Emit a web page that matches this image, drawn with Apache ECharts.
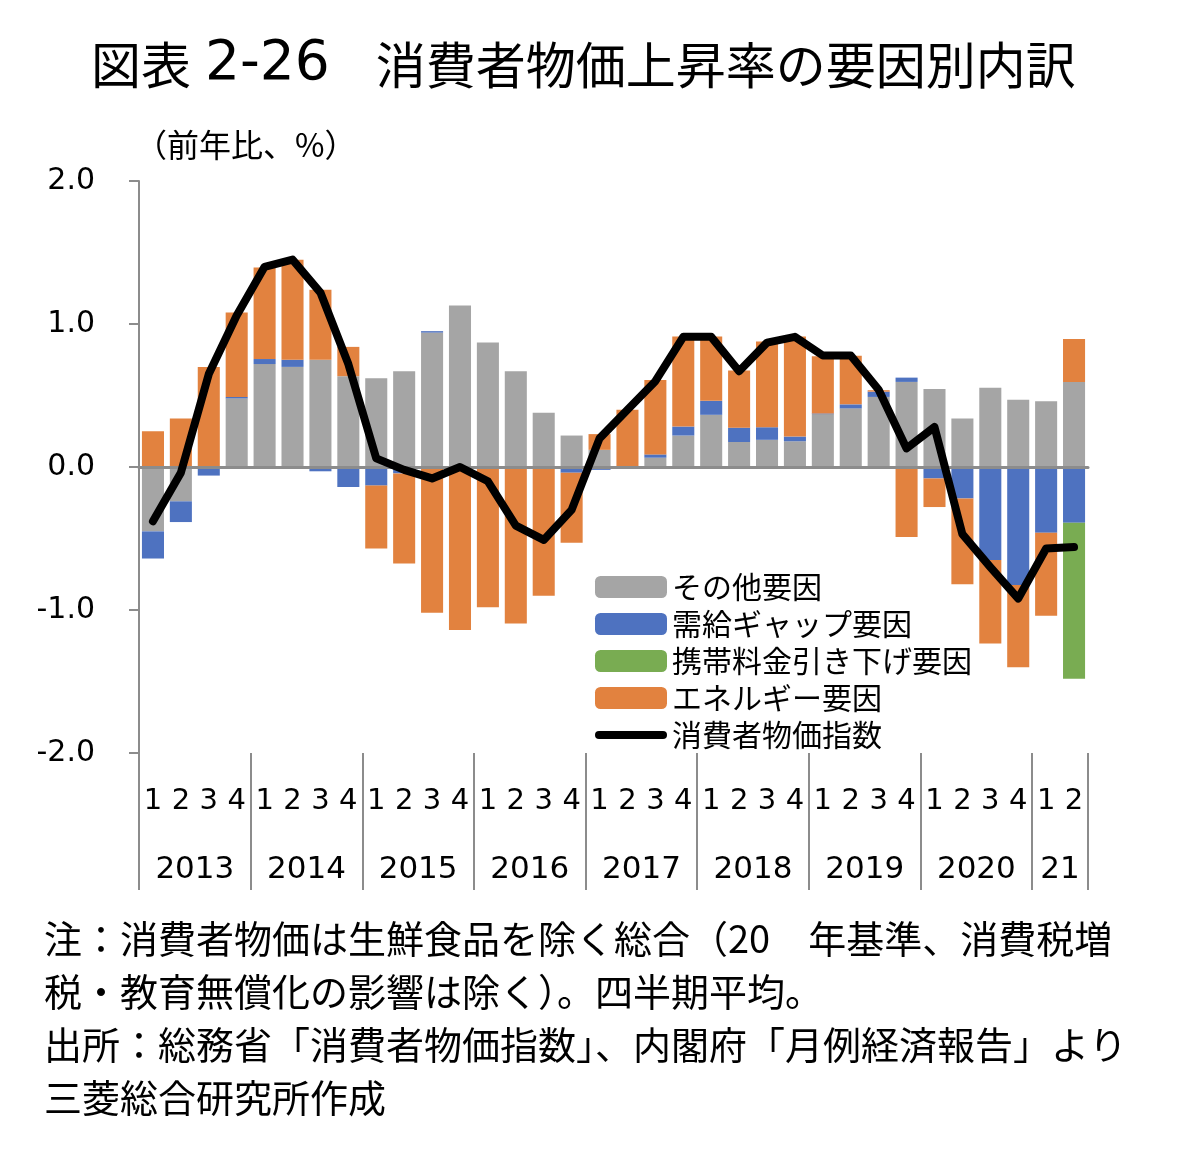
<!DOCTYPE html>
<html><head><meta charset="utf-8">
<script src="https://cdn.jsdelivr.net/npm/echarts@6/dist/echarts.min.js"></script>
<style>html,body{margin:0;padding:0;background:#fff}#c{width:1200px;height:1163px}</style>
</head><body><div id="c"></div>
<script>
// ---- data ----
const quarterLabels = ['1','2','3','4','1','2','3','4','1','2','3','4','1','2','3','4','1','2','3','4','1','2','3','4','1','2','3','4','1','2','3','4','1','2'];
const yearLabels = ['2013','2014','2015','2016','2017','2018','2019','2020','21'];
const seriesNames = ['その他要因','需給ギャップ要因','携帯料金引き下げ要因','エネルギー要因','消費者物価指数'];
const other  = [-0.45,-0.24,0,0.48, 0.72,0.70,0.75,0.635, 0.62,0.67,0.94,1.13, 0.87,0.67,0.38,0.22, 0.12,0,0.065,0.22, 0.365,0.175,0.19,0.18, 0.37,0.41,0.49,0.595, 0.545,0.34,0.555,0.47, 0.46,0.595];
const gap    = [-0.19,-0.145,-0.06,0.01, 0.035,0.05,-0.03,-0.14, -0.13,-0.045,0.01,0, -0.01,-0.005,0,-0.04, -0.02,0,0.023,0.063, 0.098,0.10,0.088,0.033, 0.005,0.028,0.037,0.03, -0.08,-0.22,-0.65,-0.825, -0.46,-0.39];
const mobile = [null,null,null,null, null,null,null,null, null,null,null,null, null,null,null,null, null,null,null,null, null,null,null,null, null,null,null,null, null,null,null,null, null,-1.09];
const energy = [0.25,0.34,0.70,0.59, 0.64,0.70,0.49,0.205, -0.44,-0.63,-1.02,-1.14, -0.97,-1.09,-0.90,-0.49, 0.11,0.40,0.52,0.63, 0.45,0.40,0.60,0.70, 0.40,0.34,0.01,-0.49, -0.20,-0.60,-0.585,-0.575, -0.58,0.30];
const cpi    = [-0.38,-0.04,0.65,1.06, 1.40,1.45,1.22,0.72, 0.06,-0.02,-0.08,0.0, -0.10,-0.41,-0.51,-0.30, 0.20,0.40,0.60,0.91, 0.91,0.67,0.87,0.91, 0.78,0.78,0.54,0.13, 0.28,-0.47,-0.70,-0.92, -0.57,-0.56];
const noteLines = [
  '注：消費者物価は生鮮食品を除く総合（20　年基準、消費税増',
  '税・教育無償化の影響は除く）。四半期平均。',
  '出所：総務省「消費者物価指数」、内閣府「月例経済報告」より',
  '三菱総合研究所作成'
];

// year boundary axis (points at quarter boundaries)
const nQ = quarterLabels.length;
const yearAxisData = new Array(nQ + 1).fill('');
const boundaryIdx = [];
yearLabels.forEach((y, k) => {
  const s = 4 * k, e = Math.min(4 * k + 4, nQ);
  boundaryIdx.push(s);
  const mid = (s + e) / 2;
  if (Number.isInteger(mid)) yearAxisData[mid] = y;
});
boundaryIdx.push(nQ);

const CJK = "'Noto Sans CJK JP', 'Noto Sans CJK SC', sans-serif";
const NUM = "'DejaVu Sans', Verdana, sans-serif";
const C = { grey:'#A5A5A5', blue:'#4E72C0', green:'#79AC52', orange:'#E2823F', axis:'#8C8C8C' };

const chart = echarts.init(document.getElementById('c'), null, {renderer:'canvas'});
const barCommon = { type:'bar', stack:'total', barCategoryGap:'21%', xAxisIndex:0, yAxisIndex:0 };

const legendData = seriesNames.map((n, i) => i === 4
  ? { name:n, icon:'path://M4,0 H68 A4,4 0 0 1 68,8 H4 A4,4 0 0 1 4,0 Z' }
  : { name:n });

chart.setOption({
  animation:false,
  backgroundColor:'#fff',
  title:[{
    left:86, top:30,
    text:'{a|図表}{b|2-26}{a|消費者物価上昇率の要因別内訳}',
    textStyle:{ fontWeight:'normal', rich:{
      a:{ fontFamily:CJK, fontSize:50, fontWeight:'normal', color:'#000', lineHeight:60, verticalAlign:'middle' },
      b:{ fontFamily:NUM, fontSize:55, fontWeight:'normal', color:'#000', lineHeight:60, verticalAlign:'middle', padding:[0,46,0,14] }
    }}
  },{
    left:130, top:124,
    text:'（前年比、%）',
    textStyle:{ fontFamily:CJK, fontSize:32, fontWeight:'normal', color:'#000' }
  }],
  grid:{ left:139, right:112, top:181, bottom:410, containLabel:false },
  legend:{
    orient:'vertical', left:590, top:567,
    itemWidth:72, itemHeight:22, itemGap:7,
    selectedMode:false,
    data: legendData,
    textStyle:{ fontFamily:CJK, fontSize:30, color:'#000', lineHeight:30 }
  },
  xAxis:[
    { type:'category', data:quarterLabels, position:'bottom', z:3,
      axisLine:{ show:true, onZero:true, lineStyle:{ color:C.axis, width:3 } },
      axisTick:{ show:false }, axisLabel:{ show:false }, splitLine:{ show:false } },
    { type:'category', data:quarterLabels, position:'bottom',
      axisLine:{ show:false, onZero:false }, axisTick:{ show:false },
      axisLabel:{ show:true, interval:0, margin:34, fontFamily:NUM, fontSize:29, color:'#000' } },
    { type:'category', data:yearAxisData, boundaryGap:false, position:'bottom',
      axisLine:{ show:false, onZero:false },
      axisTick:{ show:true, length:137, interval:(i) => boundaryIdx.indexOf(i) >= 0, lineStyle:{ color:C.axis, width:2 } },
      axisLabel:{ show:true, interval:0, margin:101, fontFamily:NUM, fontSize:31, color:'#000' } }
  ],
  yAxis:[{
    type:'value', min:-2, max:2, interval:1,
    axisLine:{ show:true, lineStyle:{ color:C.axis, width:2 } },
    axisTick:{ show:true, length:10, lineStyle:{ color:C.axis, width:2 } },
    splitLine:{ show:false },
    axisLabel:{ margin:44, fontFamily:NUM, fontSize:30, color:'#000', formatter:(v) => v.toFixed(1) }
  }],
  series:[
    Object.assign({ name:seriesNames[0], data:other,  itemStyle:{ color:C.grey } }, barCommon),
    Object.assign({ name:seriesNames[1], data:gap,    itemStyle:{ color:C.blue } }, barCommon),
    Object.assign({ name:seriesNames[2], data:mobile, itemStyle:{ color:C.green } }, barCommon),
    Object.assign({ name:seriesNames[3], data:energy, itemStyle:{ color:C.orange } }, barCommon),
    { name:seriesNames[4], type:'line', data:cpi, xAxisIndex:0, yAxisIndex:0, z:5,
      symbol:'none', showSymbol:false,
      lineStyle:{ color:'#000', width:8, cap:'round', join:'round' },
      itemStyle:{ color:'#000' } }
  ],
  graphic: noteLines.map((t, i) => ({
    type:'text', left:44, top:920 + i * 52.7, silent:true,
    style:{ text:t, font:'38px ' + CJK, fill:'#000' }
  }))
});
</script></body></html>
